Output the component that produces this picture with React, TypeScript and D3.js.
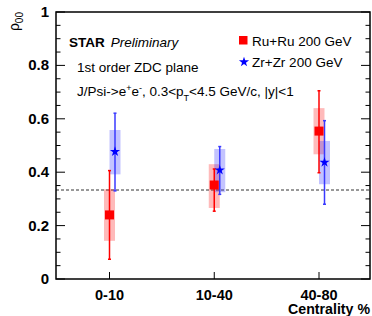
import * as d3 from "d3";
import React from "react";

const categories = ["0-10", "10-40", "40-80"];
const yTicks = [0, 0.2, 0.4, 0.6, 0.8, 1];
const yTickLabels = ["0", "0.2", "0.4", "0.6", "0.8", "1"];

// Ru+Ru 200 GeV
const ruValue = [0.24, 0.352, 0.554];
const ruStatLow = [0.074, 0.254, 0.398];
const ruStatHigh = [0.406, 0.412, 0.705];
const ruSysLow = [0.143, 0.266, 0.467];
const ruSysHigh = [0.336, 0.43, 0.64];

// Zr+Zr 200 GeV
const zrValue = [0.477, 0.408, 0.437];
const zrStatLow = [0.33, 0.317, 0.28];
const zrStatHigh = [0.621, 0.496, 0.593];
const zrSysLow = [0.392, 0.325, 0.355];
const zrSysHigh = [0.558, 0.487, 0.517];

const refLine = 1 / 3;

const W = 372;
const H = 316;
const left = 56;
const right = 370;
const top = 12;
const bottom = 279;
const font = "'Liberation Sans', Arial, Helvetica, sans-serif";

const RED = "#ff0000";
const BLUE = "#3a3aff";

const App = () => {
  const x = d3.scalePoint<string>().domain(categories).range([109.5, 319]);
  const y = d3.scaleLinear().domain([0, 1]).range([bottom, top]);
  const minor = d3.range(0, 1.0001, 0.05);
  const star = d3.symbol().type(d3.symbolStar).size(32)();
  const boxW = 11;
  const zrShift = 5.5;

  const series = [
    { v: ruValue, sl: ruStatLow, sh: ruStatHigh, bl: ruSysLow, bh: ruSysHigh, dx: 0, line: RED, fill: "rgba(255,0,0,0.27)" },
    { v: zrValue, sl: zrStatLow, sh: zrStatHigh, bl: zrSysLow, bh: zrSysHigh, dx: zrShift, line: BLUE, fill: "rgba(40,40,255,0.28)" },
  ];

  return (
    <svg width={W} height={H} style={{ position: "absolute", left: 0, top: 0 }} fontFamily={font}>
      <rect x={0} y={0} width={W} height={H} fill="white" />
      {/* y axis ticks both sides */}
      {minor.map((t, i) => {
        const major = i % 4 === 0;
        const len = major ? 9 : 4.5;
        return (
          <g key={"yt" + i} stroke="#000" strokeWidth={1}>
            <line x1={left} x2={left + len} y1={y(t)} y2={y(t)} />
            <line x1={right - len} x2={right} y1={y(t)} y2={y(t)} />
          </g>
        );
      })}
      {categories.map((c) => (
        <line key={"xt" + c} x1={x(c)} x2={x(c)} y1={bottom} y2={bottom - 7} stroke="#000" />
      ))}
      {yTicks.map((t, i) => (
        <text key={"yl" + i} x={49} y={y(t) + 5} textAnchor="end" fontSize={15} fontWeight="bold">
          {yTickLabels[i]}
        </text>
      ))}
      {categories.map((c) => (
        <text key={"xl" + c} x={x(c)} y={299.5} textAnchor="middle" fontSize={14.5} fontWeight="bold">
          {c}
        </text>
      ))}
      <text x={370} y={314} textAnchor="end" fontSize={14.2} fontWeight="bold">
        Centrality %
      </text>
      <text transform="translate(19,12) rotate(-90)" textAnchor="end" fontSize={14}>
        ρ<tspan dy={4} fontSize={10}>00</tspan>
      </text>

      {/* reference line */}
      <line x1={left} x2={right} y1={y(refLine)} y2={y(refLine)} stroke="#333" strokeDasharray="3,2" strokeWidth={1} />

      {/* systematic boxes */}
      {series.map((s, si) =>
        categories.map((c, i) => (
          <rect
            key={"sys" + si + c}
            x={(x(c) as number) + s.dx - boxW / 2}
            y={y(s.bh[i])}
            width={boxW}
            height={y(s.bl[i]) - y(s.bh[i])}
            fill={s.fill}
          />
        ))
      )}
      {/* stat bars */}
      {series.map((s, si) =>
        categories.map((c, i) => {
          const cx = (x(c) as number) + s.dx;
          return (
            <g key={"st" + si + c} stroke={s.line} strokeWidth={1.5}>
              <line x1={cx} x2={cx} y1={y(s.sh[i])} y2={y(s.sl[i])} />
              <line x1={cx - 1.5} x2={cx + 1.5} y1={y(s.sh[i])} y2={y(s.sh[i])} />
              <line x1={cx - 1.5} x2={cx + 1.5} y1={y(s.sl[i])} y2={y(s.sl[i])} />
            </g>
          );
        })
      )}
      {/* markers */}
      {categories.map((c, i) => (
        <rect key={"ru" + c} x={(x(c) as number) - 4.5} y={y(ruValue[i]) - 4.5} width={9} height={9} fill={RED} />
      ))}
      {categories.map((c, i) => (
        <path
          key={"zr" + c}
          d={star as string}
          transform={`translate(${(x(c) as number) + zrShift},${y(zrValue[i])})`}
          fill="#0000ff"
        />
      ))}

      {/* frame */}
      <rect x={left} y={top} width={right - left} height={bottom - top} fill="none" stroke="#000" strokeWidth={1.5} />

      {/* annotations */}
      <text x={69} y={47} fontSize={13.5}>
        <tspan fontWeight="bold">STAR</tspan>
        <tspan fontStyle="italic" dx={6}>Preliminary</tspan>
      </text>
      <text x={77} y={71.5} fontSize={13.5}>1st order ZDC plane</text>
      <text x={77} y={96} fontSize={13.5}>
        J/Psi-&gt;e<tspan dy={-5} fontSize={9}>+</tspan>
        <tspan dy={5}>e</tspan>
        <tspan dy={-5} fontSize={9}>-</tspan>
        <tspan dy={5}>, 0.3&lt;p</tspan>
        <tspan dy={5} fontSize={9}>T</tspan>
        <tspan dy={-5}>&lt;4.5 GeV/c, |y|&lt;1</tspan>
      </text>

      {/* legend */}
      <rect x={239} y={36} width={8.5} height={8.5} fill={RED} />
      <text x={252} y={45.5} fontSize={13.5}>Ru+Ru 200 GeV</text>
      <path d={star as string} transform="translate(244,62)" fill="#0000ff" />
      <text x={252} y={67} fontSize={13.5}>Zr+Zr 200 GeV</text>
    </svg>
  );
};

export default App;
